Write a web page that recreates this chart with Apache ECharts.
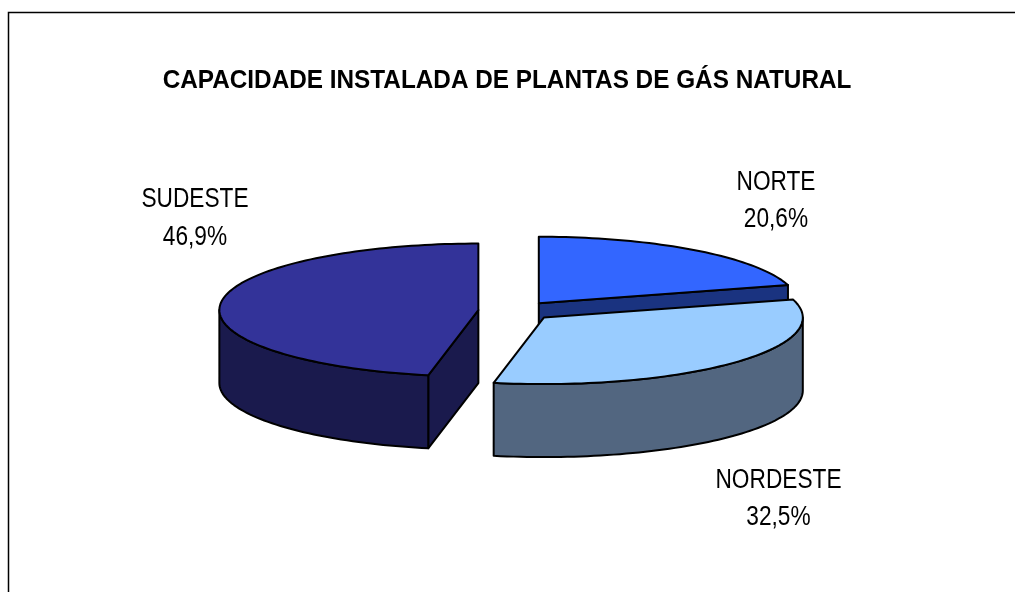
<!DOCTYPE html>
<html><head><meta charset="utf-8">
<style>html,body{margin:0;padding:0;background:#fff}#c{width:1015px;height:592px}</style>
<script src="https://cdn.jsdelivr.net/npm/echarts@6/dist/echarts.min.js"></script>
</head><body><div id="c"></div>
<script>
const titleText = 'CAPACIDADE INSTALADA DE PLANTAS DE GÁS NATURAL';
const categories = ['NORTE', 'NORDESTE', 'SUDESTE'];
const shares = [20.6, 32.5, 46.9];
const topColors = ['#3366FF', '#99CCFF', '#333399'];
const sideColors = ['#1A3380', '#526680', '#1A1A4D'];
const labelAnchors = [[776, 201], [778.5, 499], [195, 218.5]];

const CX = 516, CY = 311, RX = 259, RY = 66.5, DEPTH = 73, EXPLODE = 0.146;
const total = shares.reduce((a, b) => a + b, 0);
const rad = d => d * Math.PI / 180;
const pt = (c, a, dy) => [c[0] + RX * Math.sin(a), c[1] - RY * Math.cos(a) + (dy || 0)];
function arc(c, a0, a1, dy) {
  const n = Math.max(2, Math.ceil(Math.abs(a1 - a0) / rad(1.5))), out = [];
  for (let i = 0; i <= n; i++) out.push(pt(c, a0 + (a1 - a0) * i / n, dy));
  return out;
}
const line = { stroke: '#000', lineWidth: 2, lineJoin: 'round' };

function renderSlice(params, api) {
  const i = params.dataIndex;
  let before = 0;
  for (let k = 0; k < i; k++) before += shares[k];
  const a0 = rad(before / total * 360), a1 = rad((before + api.value(0)) / total * 360);
  const mid = (a0 + a1) / 2;
  const c = [CX + RX * EXPLODE * Math.sin(mid), CY - RY * EXPLODE * Math.cos(mid)];
  const low = [c[0], c[1] + DEPTH];
  const children = [];
  const poly = (points, fill) => children.push({
    type: 'polygon', shape: { points }, style: Object.assign({ fill }, line)
  });
  if (Math.sin(a0) < 0) poly([c, pt(c, a0), pt(c, a0, DEPTH), low], sideColors[i]);
  if (Math.sin(a1) > 0) poly([c, pt(c, a1), pt(c, a1, DEPTH), low], sideColors[i]);
  const w0 = Math.max(a0, rad(90)), w1 = Math.min(a1, rad(270));
  if (w1 > w0) poly(arc(c, w0, w1, 0).concat(arc(c, w1, w0, DEPTH)), sideColors[i]);
  poly([c].concat(arc(c, a0, a1, 0)), topColors[i]);
  const pct = api.value(0).toFixed(1).replace('.', ',') + '%';
  [categories[i], pct].forEach((t, k) => children.push({
    type: 'text', x: labelAnchors[i][0], y: labelAnchors[i][1] + (k ? 19 : -18.5), scaleX: 0.84,
    style: { text: t, fill: '#000', align: 'center', verticalAlign: 'middle',
             font: '27px "Liberation Sans", Arial, sans-serif' }
  }));
  return { type: 'group', children };
}

const chart = echarts.init(document.getElementById('c'), null, { renderer: 'canvas' });
chart.setOption({
  animation: false,
  backgroundColor: '#fff',
  graphic: [
    { type: 'rect', silent: true, shape: { x: 8.5, y: 12.5, width: 1100, height: 700 },
      style: { fill: 'none', stroke: '#000', lineWidth: 1.5 } },
    { type: 'text', silent: true, x: 507, y: 81.5, scaleX: 0.973,
      style: { text: titleText, fill: '#000', align: 'center', verticalAlign: 'middle',
               font: 'bold 25px "Liberation Sans", Arial, sans-serif' } }
  ],
  series: [{
    type: 'custom',
    coordinateSystem: 'none',
    renderItem: renderSlice,
    data: shares.map(v => [v]),
    silent: true
  }]
});
</script></body></html>
